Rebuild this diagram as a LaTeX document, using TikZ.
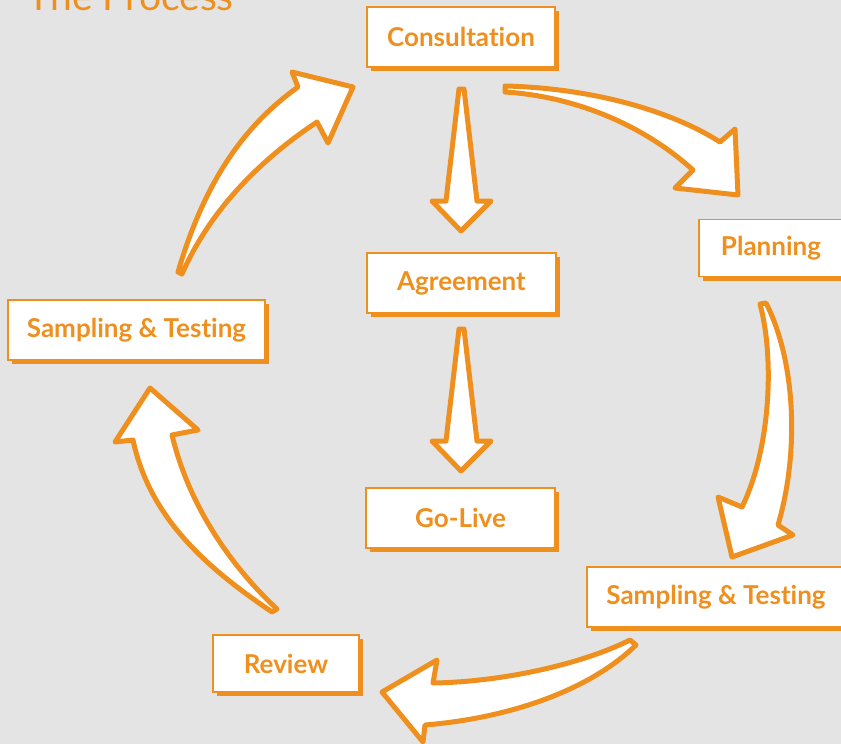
\documentclass[tikz,border=0pt]{standalone}
\usepackage{fontspec}
\setmainfont{Lato}[Ligatures={NoCommon}]
\usetikzlibrary{shadows}
\definecolor{bg}{RGB}{228,228,228}
\definecolor{org}{RGB}{238,143,30}
\tikzset{
  procbox/.style={draw=org, line width=1.6pt, fill=white, inner sep=0pt,
    text=org, font=\fontsize{26}{28}\selectfont\bfseries,
    drop shadow={shadow xshift=4pt, shadow yshift=-4pt, fill=org, opacity=1}},
  blockarrow/.style={fill=white, draw=org, line width=5pt, line join=round, line cap=round}
}
\begin{document}
\begin{tikzpicture}[x=1pt,y=-1pt]
\useasboundingbox (0,0) rectangle (841,744);
\fill[bg] (0,0) rectangle (841,744);
\clip (0,0) rectangle (841,744);
\node[anchor=base west, text=org, font=\fontsize{39}{42}\selectfont] (title) at (24,10) {The Process};
\node[procbox, minimum width=188pt, minimum height=60pt] (cons) at (461,37) {Consultation};
\node[procbox, minimum width=144pt, minimum height=57pt] (plan) at (771,248) {Planning};
\node[procbox, minimum width=189pt, minimum height=60pt] (agree) at (461.5,283) {Agreement};
\node[procbox, minimum width=257pt, minimum height=60pt] (sampL) at (136.5,330) {Sampling \& Testing};
\node[procbox, minimum width=189pt, minimum height=60pt] (golive) at (460.5,518) {Go-Live};
\node[procbox, minimum width=258pt, minimum height=60pt] (sampR) at (716,597) {Sampling \& Testing};
\node[procbox, minimum width=146pt, minimum height=57pt] (review) at (286,663.5) {Review};
% straight arrows
\draw[blockarrow] (459,89) -- (446,201) -- (432,201) -- (461,231) -- (491,201) -- (477,201) -- (464,89) -- cycle;
\draw[blockarrow] (459,329) -- (446,441) -- (432,441) -- (461,471) -- (491,441) -- (477,441) -- (464,329) -- cycle;
% curved arrows
\draw[blockarrow] (505,86) .. controls (590,88) and (670,110) .. (720,142) -- (735,129) -- (738,195) -- (675,188) -- (693,170) .. controls (640,122) and (570,96) .. (505,92) -- cycle;
\draw[blockarrow] (760,304) .. controls (775,360) and (770,450) .. (742,507) -- (718,497) -- (732,557) -- (793,535) -- (778,525) .. controls (800,450) and (795,360) .. (766,303) -- cycle;
\draw[blockarrow] (630,640) .. controls (580,665) and (500,682) .. (433,683) -- (437,660) -- (382,692) -- (423,742) -- (425,725) .. controls (510,718) and (590,690) .. (636,645) -- cycle;
\draw[blockarrow] (272,612) .. controls (210,570) and (150,520) .. (133,440) -- (115,442) -- (150,388) -- (198,430) -- (172,435) .. controls (190,510) and (235,570) .. (277,609) -- cycle;
\draw[blockarrow] (178,272) .. controls (205,180) and (245,125) .. (298,87) -- (292,72) -- (353,87) -- (328,143) -- (317,122) .. controls (260,160) and (210,210) .. (182,274) -- cycle;
\end{tikzpicture}
\end{document}
